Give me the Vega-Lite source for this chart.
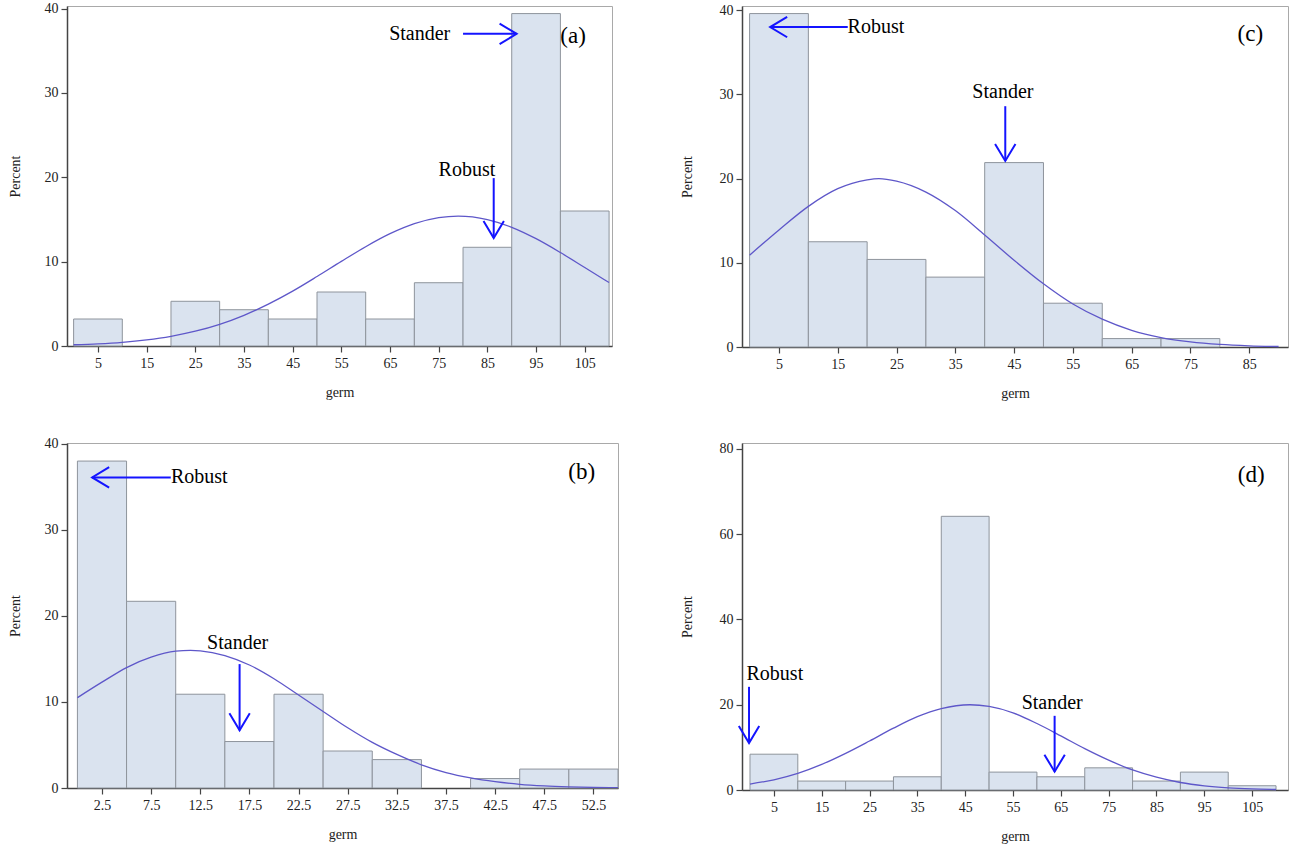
{
"$schema": "https://vega.github.io/schema/vega-lite/v6.json",
"background": "white",
"padding": {"left": 7, "top": 1, "right": 0, "bottom": 0},
"config": {
 "font": "Liberation Serif",
 "view": {"stroke": "#a9a9a9", "strokeWidth": 1},
 "axis": {"labelFont": "Liberation Serif", "titleFont": "Liberation Serif", "labelFontSize": 14, "titleFontSize": 14, "titleFontWeight": "normal", "grid": false, "tickSize": 6, "domainColor": "#444444", "tickColor": "#444444", "labelColor": "#222222", "titleColor": "#222222", "labelPadding": 3, "domainWidth": 1.5, "tickWidth": 1.2},
 "axisX": {"labelPadding": 4, "titlePadding": 15},
 "axisY": {"titlePadding": 22}
},
"datasets": {
 "bars": [
  {"panel": "a", "start": 0, "end": 10, "pct": 3.2},
  {"panel": "a", "start": 20, "end": 30, "pct": 5.3},
  {"panel": "a", "start": 30, "end": 40, "pct": 4.3},
  {"panel": "a", "start": 40, "end": 50, "pct": 3.2},
  {"panel": "a", "start": 50, "end": 60, "pct": 6.4},
  {"panel": "a", "start": 60, "end": 70, "pct": 3.2},
  {"panel": "a", "start": 70, "end": 80, "pct": 7.5},
  {"panel": "a", "start": 80, "end": 90, "pct": 11.7},
  {"panel": "a", "start": 90, "end": 100, "pct": 39.4},
  {"panel": "a", "start": 100, "end": 110, "pct": 16.0},
  {"panel": "c", "start": 0, "end": 10, "pct": 39.6},
  {"panel": "c", "start": 10, "end": 20, "pct": 12.5},
  {"panel": "c", "start": 20, "end": 30, "pct": 10.4},
  {"panel": "c", "start": 30, "end": 40, "pct": 8.3},
  {"panel": "c", "start": 40, "end": 50, "pct": 21.9},
  {"panel": "c", "start": 50, "end": 60, "pct": 5.2},
  {"panel": "c", "start": 60, "end": 70, "pct": 1.0},
  {"panel": "c", "start": 70, "end": 80, "pct": 1.0},
  {"panel": "b", "start": 0, "end": 5, "pct": 38.0},
  {"panel": "b", "start": 5, "end": 10, "pct": 21.7},
  {"panel": "b", "start": 10, "end": 15, "pct": 10.9},
  {"panel": "b", "start": 15, "end": 20, "pct": 5.4},
  {"panel": "b", "start": 20, "end": 25, "pct": 10.9},
  {"panel": "b", "start": 25, "end": 30, "pct": 4.3},
  {"panel": "b", "start": 30, "end": 35, "pct": 3.3},
  {"panel": "b", "start": 40, "end": 45, "pct": 1.1},
  {"panel": "b", "start": 45, "end": 50, "pct": 2.2},
  {"panel": "b", "start": 50, "end": 55, "pct": 2.2},
  {"panel": "d", "start": 0, "end": 10, "pct": 8.4},
  {"panel": "d", "start": 10, "end": 20, "pct": 2.1},
  {"panel": "d", "start": 20, "end": 30, "pct": 2.1},
  {"panel": "d", "start": 30, "end": 40, "pct": 3.1},
  {"panel": "d", "start": 40, "end": 50, "pct": 64.2},
  {"panel": "d", "start": 50, "end": 60, "pct": 4.2},
  {"panel": "d", "start": 60, "end": 70, "pct": 3.1},
  {"panel": "d", "start": 70, "end": 80, "pct": 5.2},
  {"panel": "d", "start": 80, "end": 90, "pct": 2.1},
  {"panel": "d", "start": 90, "end": 100, "pct": 4.2},
  {"panel": "d", "start": 100, "end": 110, "pct": 1.0}
 ],
 "curve": [
  {"panel": "a", "x": 0, "y": 0.15}, {"panel": "a", "x": 5, "y": 0.26}, {"panel": "a", "x": 10, "y": 0.44}, {"panel": "a", "x": 15, "y": 0.73}, {"panel": "a", "x": 20, "y": 1.15}, {"panel": "a", "x": 25, "y": 1.75}, {"panel": "a", "x": 30, "y": 2.57}, {"panel": "a", "x": 35, "y": 3.64}, {"panel": "a", "x": 40, "y": 4.96}, {"panel": "a", "x": 45, "y": 6.5}, {"panel": "a", "x": 50, "y": 8.23}, {"panel": "a", "x": 55, "y": 10.03}, {"panel": "a", "x": 60, "y": 11.77}, {"panel": "a", "x": 65, "y": 13.31}, {"panel": "a", "x": 70, "y": 14.5}, {"panel": "a", "x": 75, "y": 15.22}, {"panel": "a", "x": 79, "y": 15.4}, {"panel": "a", "x": 85, "y": 14.99}, {"panel": "a", "x": 90, "y": 14.07}, {"panel": "a", "x": 95, "y": 12.72}, {"panel": "a", "x": 100, "y": 11.08}, {"panel": "a", "x": 105, "y": 9.3}, {"panel": "a", "x": 110, "y": 7.52},
  {"panel": "c", "x": 0, "y": 10.9}, {"panel": "c", "x": 5, "y": 13.9}, {"panel": "c", "x": 10, "y": 16.7}, {"panel": "c", "x": 15, "y": 18.8}, {"panel": "c", "x": 20, "y": 19.85}, {"panel": "c", "x": 22, "y": 20.0}, {"panel": "c", "x": 25, "y": 19.7}, {"panel": "c", "x": 30, "y": 18.4}, {"panel": "c", "x": 35, "y": 16.2}, {"panel": "c", "x": 40, "y": 13.3}, {"panel": "c", "x": 45, "y": 10.3}, {"panel": "c", "x": 50, "y": 7.5}, {"panel": "c", "x": 55, "y": 5.1}, {"panel": "c", "x": 60, "y": 3.3}, {"panel": "c", "x": 65, "y": 1.98}, {"panel": "c", "x": 70, "y": 1.12}, {"panel": "c", "x": 75, "y": 0.6}, {"panel": "c", "x": 80, "y": 0.3}, {"panel": "c", "x": 85, "y": 0.14}, {"panel": "c", "x": 90, "y": 0.06},
  {"panel": "b", "x": 0, "y": 10.5}, {"panel": "b", "x": 2.5, "y": 12.3}, {"panel": "b", "x": 5, "y": 14.0}, {"panel": "b", "x": 7.5, "y": 15.2}, {"panel": "b", "x": 10, "y": 15.9}, {"panel": "b", "x": 11.5, "y": 16.0}, {"panel": "b", "x": 12.5, "y": 15.95}, {"panel": "b", "x": 15, "y": 15.4}, {"panel": "b", "x": 17.5, "y": 14.3}, {"panel": "b", "x": 20, "y": 12.7}, {"panel": "b", "x": 22.5, "y": 10.8}, {"panel": "b", "x": 25, "y": 8.9}, {"panel": "b", "x": 27.5, "y": 7.0}, {"panel": "b", "x": 30, "y": 5.3}, {"panel": "b", "x": 32.5, "y": 3.9}, {"panel": "b", "x": 35, "y": 2.7}, {"panel": "b", "x": 37.5, "y": 1.8}, {"panel": "b", "x": 40, "y": 1.17}, {"panel": "b", "x": 42.5, "y": 0.73}, {"panel": "b", "x": 45, "y": 0.43}, {"panel": "b", "x": 47.5, "y": 0.25}, {"panel": "b", "x": 50, "y": 0.14}, {"panel": "b", "x": 52.5, "y": 0.07}, {"panel": "b", "x": 55, "y": 0.04},
  {"panel": "d", "x": 0, "y": 1.4}, {"panel": "d", "x": 5, "y": 2.4}, {"panel": "d", "x": 10, "y": 3.9}, {"panel": "d", "x": 15, "y": 6.0}, {"panel": "d", "x": 20, "y": 8.6}, {"panel": "d", "x": 25, "y": 11.5}, {"panel": "d", "x": 30, "y": 14.5}, {"panel": "d", "x": 35, "y": 17.2}, {"panel": "d", "x": 40, "y": 19.1}, {"panel": "d", "x": 46, "y": 20.0}, {"panel": "d", "x": 50, "y": 19.6}, {"panel": "d", "x": 55, "y": 18.1}, {"panel": "d", "x": 60, "y": 15.6}, {"panel": "d", "x": 65, "y": 12.7}, {"panel": "d", "x": 70, "y": 9.7}, {"panel": "d", "x": 75, "y": 7.0}, {"panel": "d", "x": 80, "y": 4.7}, {"panel": "d", "x": 85, "y": 3.0}, {"panel": "d", "x": 90, "y": 1.76}, {"panel": "d", "x": 95, "y": 0.98}, {"panel": "d", "x": 100, "y": 0.51}, {"panel": "d", "x": 105, "y": 0.25}, {"panel": "d", "x": 110, "y": 0.12}
 ],
 "arrows": [
  {"panel": "a", "x": 80.0, "y": 37.0, "x2": 91.0, "y2": 37.0, "dir": "right"},
  {"panel": "a", "x": 86.3, "y": 19.9, "x2": 86.3, "y2": 12.8, "dir": "down"},
  {"panel": "c", "x": 16.7, "y": 38.0, "x2": 3.5, "y2": 38.0, "dir": "left"},
  {"panel": "c", "x": 43.5, "y": 28.6, "x2": 43.5, "y2": 22.1, "dir": "down"},
  {"panel": "b", "x": 9.5, "y": 36.1, "x2": 1.5, "y2": 36.1, "dir": "left"},
  {"panel": "b", "x": 16.5, "y": 14.4, "x2": 16.5, "y2": 6.7, "dir": "down"},
  {"panel": "d", "x": -0.2, "y": 24.2, "x2": -0.2, "y2": 11.0, "dir": "down"},
  {"panel": "d", "x": 63.7, "y": 17.4, "x2": 63.7, "y2": 4.3, "dir": "down"}
 ],
 "notes": [
  {"panel": "a", "kind": "note", "text": "Stander", "x": 71.1, "y": 37.0},
  {"panel": "a", "kind": "note", "text": "Robust", "x": 80.8, "y": 20.9},
  {"panel": "a", "kind": "tag", "text": "(a)", "x": 102.6, "y": 36.7},
  {"panel": "c", "kind": "note", "text": "Robust", "x": 21.5, "y": 38.0},
  {"panel": "c", "kind": "note", "text": "Stander", "x": 43.1, "y": 30.3},
  {"panel": "c", "kind": "tag", "text": "(c)", "x": 85.2, "y": 37.2},
  {"panel": "b", "kind": "note", "text": "Robust", "x": 12.4, "y": 36.1},
  {"panel": "b", "kind": "note", "text": "Stander", "x": 16.3, "y": 16.9},
  {"panel": "b", "kind": "tag", "text": "(b)", "x": 51.3, "y": 36.7},
  {"panel": "d", "kind": "note", "text": "Robust", "x": 5.2, "y": 27.3},
  {"panel": "d", "kind": "note", "text": "Stander", "x": 63.2, "y": 20.5},
  {"panel": "d", "kind": "tag", "text": "(d)", "x": 104.8, "y": 73.9}
 ]
},
"columns": 2,
"spacing": {"row": 35, "column": 60},
"concat": [
  {"width": 545, "height": 340, "layer": [
   {"data": {"name": "bars"}, "transform": [{"filter": "datum.panel === 'a'"}], "mark": {"type": "rect", "fill": "#dae3ef", "stroke": "#8e949c", "strokeWidth": 1},
    "encoding": {"x": {"field": "start", "type": "quantitative", "title": "germ", "scale": {"domain": [-1.36, 110.6], "nice": false, "zero": false}, "axis": {"values": [5,15,25,35,45,55,65,75,85,95,105]}},
     "x2": {"field": "end"},
     "y": {"field": "pct", "type": "quantitative", "title": "Percent", "scale": {"domain": [0, 40.3], "nice": false}, "axis": {"values": [0,10,20,30,40]}},
     "y2": {"datum": 0}}},
   {"data": {"name": "curve"}, "transform": [{"filter": "datum.panel === 'a'"}], "mark": {"type": "line", "color": "#5e57c9", "strokeWidth": 1.3, "interpolate": "monotone"},
    "encoding": {"x": {"field": "x", "type": "quantitative", "title": "germ"}, "y": {"field": "y", "type": "quantitative", "title": "Percent"}}},
   {"data": {"name": "arrows"}, "transform": [{"filter": "datum.panel === 'a'"}], "mark": {"type": "rule", "color": "#1414ff", "strokeWidth": 2},
    "encoding": {"x": {"field": "x", "type": "quantitative", "title": "germ"}, "x2": {"field": "x2"}, "y": {"field": "y", "type": "quantitative", "title": "Percent"}, "y2": {"field": "y2"}}},
   {"data": {"name": "arrows"}, "transform": [{"filter": "datum.panel === 'a'"}], "mark": {"type": "point", "filled": false, "color": "#1414ff", "strokeWidth": 2, "size": 1156, "opacity": 1},
    "encoding": {"x": {"field": "x2", "type": "quantitative", "title": "germ"}, "y": {"field": "y2", "type": "quantitative", "title": "Percent"}, "shape": {"field": "dir", "type": "nominal", "legend": null, "scale": {"domain": ["right", "left", "down"], "range": ["M-1,-0.6L0,0L-1,0.6", "M1,-0.6L0,0L1,0.6", "M-0.6,-1L0,0L0.6,-1"]}}}},
   {"data": {"name": "notes"}, "transform": [{"filter": "datum.panel === 'a' && datum.kind === 'note'"}], "mark": {"type": "text", "fontSize": 20, "font": "Liberation Serif", "color": "black", "align": "center", "baseline": "middle"},
    "encoding": {"x": {"field": "x", "type": "quantitative", "title": "germ"}, "y": {"field": "y", "type": "quantitative", "title": "Percent"}, "text": {"field": "text"}}},
   {"data": {"name": "notes"}, "transform": [{"filter": "datum.panel === 'a' && datum.kind === 'tag'"}], "mark": {"type": "text", "fontSize": 23, "font": "Liberation Serif", "color": "black", "align": "center", "baseline": "middle"},
    "encoding": {"x": {"field": "x", "type": "quantitative", "title": "germ"}, "y": {"field": "y", "type": "quantitative", "title": "Percent"}, "text": {"field": "text"}}}
  ]},
  {"width": 546, "height": 341, "layer": [
   {"data": {"name": "bars"}, "transform": [{"filter": "datum.panel === 'c'"}], "mark": {"type": "rect", "fill": "#dae3ef", "stroke": "#8e949c", "strokeWidth": 1},
    "encoding": {"x": {"field": "start", "type": "quantitative", "title": "germ", "scale": {"domain": [-1.29, 91.6], "nice": false, "zero": false}, "axis": {"values": [5,15,25,35,45,55,65,75,85]}},
     "x2": {"field": "end"},
     "y": {"field": "pct", "type": "quantitative", "title": "Percent", "scale": {"domain": [0, 40.5], "nice": false}, "axis": {"values": [0,10,20,30,40], "titlePadding": 25}},
     "y2": {"datum": 0}}},
   {"data": {"name": "curve"}, "transform": [{"filter": "datum.panel === 'c'"}], "mark": {"type": "line", "color": "#5e57c9", "strokeWidth": 1.3, "interpolate": "monotone"},
    "encoding": {"x": {"field": "x", "type": "quantitative", "title": "germ"}, "y": {"field": "y", "type": "quantitative", "title": "Percent"}}},
   {"data": {"name": "arrows"}, "transform": [{"filter": "datum.panel === 'c'"}], "mark": {"type": "rule", "color": "#1414ff", "strokeWidth": 2},
    "encoding": {"x": {"field": "x", "type": "quantitative", "title": "germ"}, "x2": {"field": "x2"}, "y": {"field": "y", "type": "quantitative", "title": "Percent"}, "y2": {"field": "y2"}}},
   {"data": {"name": "arrows"}, "transform": [{"filter": "datum.panel === 'c'"}], "mark": {"type": "point", "filled": false, "color": "#1414ff", "strokeWidth": 2, "size": 1156, "opacity": 1},
    "encoding": {"x": {"field": "x2", "type": "quantitative", "title": "germ"}, "y": {"field": "y2", "type": "quantitative", "title": "Percent"}, "shape": {"field": "dir", "type": "nominal", "legend": null, "scale": {"domain": ["right", "left", "down"], "range": ["M-1,-0.6L0,0L-1,0.6", "M1,-0.6L0,0L1,0.6", "M-0.6,-1L0,0L0.6,-1"]}}}},
   {"data": {"name": "notes"}, "transform": [{"filter": "datum.panel === 'c' && datum.kind === 'note'"}], "mark": {"type": "text", "fontSize": 20, "font": "Liberation Serif", "color": "black", "align": "center", "baseline": "middle"},
    "encoding": {"x": {"field": "x", "type": "quantitative", "title": "germ"}, "y": {"field": "y", "type": "quantitative", "title": "Percent"}, "text": {"field": "text"}}},
   {"data": {"name": "notes"}, "transform": [{"filter": "datum.panel === 'c' && datum.kind === 'tag'"}], "mark": {"type": "text", "fontSize": 23, "font": "Liberation Serif", "color": "black", "align": "center", "baseline": "middle"},
    "encoding": {"x": {"field": "x", "type": "quantitative", "title": "germ"}, "y": {"field": "y", "type": "quantitative", "title": "Percent"}, "text": {"field": "text"}}}
  ]},
  {"width": 551, "height": 345, "layer": [
   {"data": {"name": "bars"}, "transform": [{"filter": "datum.panel === 'b'"}], "mark": {"type": "rect", "fill": "#dae3ef", "stroke": "#8e949c", "strokeWidth": 1},
    "encoding": {"x": {"field": "start", "type": "quantitative", "title": "germ", "scale": {"domain": [-1.06, 55.0], "nice": false, "zero": false}, "axis": {"values": [2.5,7.5,12.5,17.5,22.5,27.5,32.5,37.5,42.5,47.5,52.5], "format": ".1f"}},
     "x2": {"field": "end"},
     "y": {"field": "pct", "type": "quantitative", "title": "Percent", "scale": {"domain": [0, 40.1], "nice": false}, "axis": {"values": [0,10,20,30,40]}},
     "y2": {"datum": 0}}},
   {"data": {"name": "curve"}, "transform": [{"filter": "datum.panel === 'b'"}], "mark": {"type": "line", "color": "#5e57c9", "strokeWidth": 1.3, "interpolate": "monotone", "clip": true},
    "encoding": {"x": {"field": "x", "type": "quantitative", "title": "germ"}, "y": {"field": "y", "type": "quantitative", "title": "Percent"}}},
   {"data": {"name": "arrows"}, "transform": [{"filter": "datum.panel === 'b'"}], "mark": {"type": "rule", "color": "#1414ff", "strokeWidth": 2},
    "encoding": {"x": {"field": "x", "type": "quantitative", "title": "germ"}, "x2": {"field": "x2"}, "y": {"field": "y", "type": "quantitative", "title": "Percent"}, "y2": {"field": "y2"}}},
   {"data": {"name": "arrows"}, "transform": [{"filter": "datum.panel === 'b'"}], "mark": {"type": "point", "filled": false, "color": "#1414ff", "strokeWidth": 2, "size": 1156, "opacity": 1},
    "encoding": {"x": {"field": "x2", "type": "quantitative", "title": "germ"}, "y": {"field": "y2", "type": "quantitative", "title": "Percent"}, "shape": {"field": "dir", "type": "nominal", "legend": null, "scale": {"domain": ["right", "left", "down"], "range": ["M-1,-0.6L0,0L-1,0.6", "M1,-0.6L0,0L1,0.6", "M-0.6,-1L0,0L0.6,-1"]}}}},
   {"data": {"name": "notes"}, "transform": [{"filter": "datum.panel === 'b' && datum.kind === 'note'"}], "mark": {"type": "text", "fontSize": 20, "font": "Liberation Serif", "color": "black", "align": "center", "baseline": "middle"},
    "encoding": {"x": {"field": "x", "type": "quantitative", "title": "germ"}, "y": {"field": "y", "type": "quantitative", "title": "Percent"}, "text": {"field": "text"}}},
   {"data": {"name": "notes"}, "transform": [{"filter": "datum.panel === 'b' && datum.kind === 'tag'"}], "mark": {"type": "text", "fontSize": 23, "font": "Liberation Serif", "color": "black", "align": "center", "baseline": "middle"},
    "encoding": {"x": {"field": "x", "type": "quantitative", "title": "germ"}, "y": {"field": "y", "type": "quantitative", "title": "Percent"}, "text": {"field": "text"}}}
  ]},
  {"width": 546, "height": 347, "layer": [
   {"data": {"name": "bars"}, "transform": [{"filter": "datum.panel === 'd'"}], "mark": {"type": "rect", "fill": "#dae3ef", "stroke": "#8e949c", "strokeWidth": 1},
    "encoding": {"x": {"field": "start", "type": "quantitative", "title": "germ", "scale": {"domain": [-1.67, 112.5], "nice": false, "zero": false}, "axis": {"values": [5,15,25,35,45,55,65,75,85,95,105]}},
     "x2": {"field": "end"},
     "y": {"field": "pct", "type": "quantitative", "title": "Percent", "scale": {"domain": [0, 81.4], "nice": false}, "axis": {"values": [0,20,40,60,80], "titlePadding": 25}},
     "y2": {"datum": 0}}},
   {"data": {"name": "curve"}, "transform": [{"filter": "datum.panel === 'd'"}], "mark": {"type": "line", "color": "#5e57c9", "strokeWidth": 1.3, "interpolate": "monotone"},
    "encoding": {"x": {"field": "x", "type": "quantitative", "title": "germ"}, "y": {"field": "y", "type": "quantitative", "title": "Percent"}}},
   {"data": {"name": "arrows"}, "transform": [{"filter": "datum.panel === 'd'"}], "mark": {"type": "rule", "color": "#1414ff", "strokeWidth": 2},
    "encoding": {"x": {"field": "x", "type": "quantitative", "title": "germ"}, "x2": {"field": "x2"}, "y": {"field": "y", "type": "quantitative", "title": "Percent"}, "y2": {"field": "y2"}}},
   {"data": {"name": "arrows"}, "transform": [{"filter": "datum.panel === 'd'"}], "mark": {"type": "point", "filled": false, "color": "#1414ff", "strokeWidth": 2, "size": 1156, "opacity": 1},
    "encoding": {"x": {"field": "x2", "type": "quantitative", "title": "germ"}, "y": {"field": "y2", "type": "quantitative", "title": "Percent"}, "shape": {"field": "dir", "type": "nominal", "legend": null, "scale": {"domain": ["right", "left", "down"], "range": ["M-1,-0.6L0,0L-1,0.6", "M1,-0.6L0,0L1,0.6", "M-0.6,-1L0,0L0.6,-1"]}}}},
   {"data": {"name": "notes"}, "transform": [{"filter": "datum.panel === 'd' && datum.kind === 'note'"}], "mark": {"type": "text", "fontSize": 20, "font": "Liberation Serif", "color": "black", "align": "center", "baseline": "middle"},
    "encoding": {"x": {"field": "x", "type": "quantitative", "title": "germ"}, "y": {"field": "y", "type": "quantitative", "title": "Percent"}, "text": {"field": "text"}}},
   {"data": {"name": "notes"}, "transform": [{"filter": "datum.panel === 'd' && datum.kind === 'tag'"}], "mark": {"type": "text", "fontSize": 23, "font": "Liberation Serif", "color": "black", "align": "center", "baseline": "middle"},
    "encoding": {"x": {"field": "x", "type": "quantitative", "title": "germ"}, "y": {"field": "y", "type": "quantitative", "title": "Percent"}, "text": {"field": "text"}}}
  ]}
]
}
